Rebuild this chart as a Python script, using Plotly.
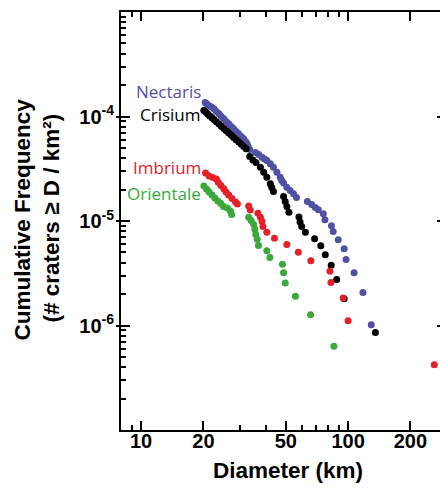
import math
import plotly.graph_objects as go

# ---------------- data ----------------
nectaris_d = [20.4, 20.8, 21.3, 21.9, 22.5, 23.1, 23.8, 24.4, 25.1, 25.8, 26.5, 27.3, 28.0, 28.8,
              29.6, 30.5, 31.3, 32.0, 32.5, 32.9, 33.5, 35.7, 37.0, 38.4, 39.5, 40.5, 42.1, 43.6,
              45.3, 47.0, 47.8, 48.8, 50.6, 52.5, 54.5, 56.3, 63.6, 66.7, 69.4, 71.8, 75.9, 77.3,
              83.1, 84.7, 89.6, 95.7, 97.8, 106.9, 118.0, 129.4]
nectaris_n = [1.36e-4, 1.32e-4, 1.27e-4, 1.23e-4, 1.185e-4, 1.116e-4, 1.061e-4, 1.0e-4, 9.51e-5,
              8.96e-5, 8.51e-5, 8.02e-5, 7.62e-5, 7.19e-5, 6.83e-5, 6.44e-5, 6.12e-5, 5.76e-5,
              5.48e-5, 5.16e-5, 4.83e-5, 4.52e-5, 4.33e-5, 4.08e-5, 3.92e-5, 3.79e-5, 3.53e-5,
              3.27e-5, 2.93e-5, 2.62e-5, 2.44e-5, 2.31e-5, 2.10e-5, 1.96e-5, 1.82e-5, 1.68e-5,
              1.54e-5, 1.44e-5, 1.35e-5, 1.28e-5, 1.17e-5, 1.03e-5, 9.0e-6, 7.93e-6, 6.61e-6,
              5.42e-6, 4.28e-6, 3.19e-6, 2.07e-6, 1.016e-6]

crisium_d = [20.1, 20.6, 21.0, 21.5, 22.0, 22.5, 23.1, 23.8, 24.4, 25.1, 25.8, 26.5, 27.3, 28.0,
             28.8, 29.6, 30.5, 31.3, 32.2, 33.5, 34.7, 35.9, 37.7, 39.1, 40.5, 42.1, 42.8, 43.6,
             48.8, 49.7, 50.6, 51.8, 57.9, 58.6, 59.7, 62.2, 68.9, 73.8, 77.6, 82.9, 88.1, 95.7,
             135.5]
crisium_n = [1.141e-4, 1.097e-4, 1.054e-4, 1.013e-4, 9.74e-5, 9.36e-5, 8.91e-5, 8.48e-5, 8.07e-5,
             7.68e-5, 7.31e-5, 6.95e-5, 6.62e-5, 6.30e-5, 5.99e-5, 5.70e-5, 5.43e-5, 5.16e-5,
             4.91e-5, 4.14e-5, 3.83e-5, 3.63e-5, 3.27e-5, 2.93e-5, 2.62e-5, 2.27e-5, 2.09e-5,
             1.915e-5, 1.715e-5, 1.54e-5, 1.376e-5, 1.214e-5, 1.092e-5, 9.78e-6, 8.86e-6,
             7.81e-6, 6.76e-6, 5.79e-6, 4.75e-6, 3.78e-6, 2.76e-6, 1.80e-6, 8.57e-7]

imbrium_d = [20.5, 21.3, 22.2, 23.1, 23.6, 24.3, 25.1, 25.7, 26.5, 27.5, 28.6, 29.2, 33.1, 33.7,
             36.7, 37.7, 38.4, 38.8, 40.5, 44.1, 50.6, 57.5, 66.1, 81.7, 82.6, 94.6, 100.0, 260.8]
imbrium_n = [2.88e-5, 2.695e-5, 2.61e-5, 2.52e-5, 2.35e-5, 2.19e-5, 2.03e-5, 1.894e-5, 1.773e-5,
             1.641e-5, 1.52e-5, 1.455e-5, 1.392e-5, 1.274e-5, 1.187e-5, 1.087e-5, 9.89e-6,
             8.86e-6, 7.81e-6, 6.84e-6, 5.96e-6, 5.03e-6, 4.16e-6, 3.31e-6, 2.58e-6, 1.83e-6,
             1.109e-6, 4.21e-7]

orientale_d = [20.1, 20.7, 21.3, 22.0, 22.7, 23.5, 24.3, 25.0, 26.1, 27.0, 27.4, 33.1, 34.0, 35.0,
               35.5, 35.8, 36.4, 36.9, 40.5, 41.9, 48.2, 48.8, 49.7, 55.7, 65.9, 85.4]
orientale_n = [2.163e-5, 2.024e-5, 1.894e-5, 1.773e-5, 1.66e-5, 1.553e-5, 1.471e-5, 1.376e-5,
               1.332e-5, 1.246e-5, 1.154e-5, 1.087e-5, 1.011e-5, 9.26e-6, 8.29e-6, 7.43e-6,
               6.69e-6, 5.83e-6, 5.19e-6, 4.47e-6, 3.86e-6, 3.19e-6, 2.55e-6, 1.90e-6, 1.268e-6,
               6.34e-7]

series_names = ["Nectaris", "Crisium", "Imbrium", "Orientale"]
series_colors = ["#5150A2", "#000000", "#E42128", "#3AA83A"]

x_tickvals = [10, 20, 50, 100, 200]
x_ticktext = ["10", "20", "50", "100", "200"]
x_minor = [8, 9, 30, 40, 60, 70, 80, 90, 300]
y_tickvals = [1e-6, 1e-5, 1e-4]
y_ticktext = ["10<sup>-6</sup>", "10<sup>-5</sup>", "10<sup>-4</sup>"]
y_minor = [k * 10.0 ** e for e in range(-7, -3) for k in range(2, 10)]

# ---------------- figure ----------------
fig = go.Figure()
data = [(nectaris_d, nectaris_n), (crisium_d, crisium_n),
        (imbrium_d, imbrium_n), (orientale_d, orientale_n)]
for name, (d, n), col in zip(series_names, data, series_colors):
    fig.add_trace(go.Scatter(x=d, y=n, mode="markers", name=name,
                             marker=dict(size=7, color=col, line=dict(width=0)),
                             showlegend=False, hoverinfo="x+y+name"))
# helper trace for the outside stub of the major y ticks
fig.add_trace(go.Scatter(x=[], y=[], yaxis="y2", showlegend=False, hoverinfo="skip"))

bold = dict(family="Liberation Sans, Arial, sans-serif", color="black", weight="bold")
x_lo = math.log10(8)
x_hi = x_lo + 327 / 208.3

# the page body adds an 8px offset, so the figure is 440x483
fig.update_layout(
    width=440, height=483,
    margin=dict(l=113, r=0, t=4, b=61),
    paper_bgcolor="white", plot_bgcolor="white",
    showlegend=False,
    xaxis=dict(type="log", range=[x_lo, x_hi], tickmode="array",
               tickvals=x_tickvals, ticktext=x_ticktext,
               ticks="inside", ticklen=9, tickwidth=2, tickcolor="black",
               showline=True, linewidth=2, linecolor="black", mirror="ticks",
               showgrid=False, zeroline=False, ticklabelstandoff=-8,
               tickfont=dict(size=20, **bold),
               minor=dict(tickmode="array", tickvals=x_minor, ticks="inside",
                          ticklen=5, tickwidth=1.5, tickcolor="black", showgrid=False)),
    yaxis=dict(type="log", range=[-7, -3], tickmode="array",
               tickvals=y_tickvals, ticktext=y_ticktext,
               ticks="inside", ticklen=9, tickwidth=2, tickcolor="black",
               showline=True, linewidth=2, linecolor="black", mirror="ticks",
               showgrid=False, zeroline=False, ticklabelstandoff=1,
               tickfont=dict(size=20, **bold),
               minor=dict(tickmode="array", tickvals=y_minor, ticks="inside",
                          ticklen=5, tickwidth=1.5, tickcolor="black", showgrid=False)),
    yaxis2=dict(type="log", range=[-7, -3], overlaying="y", side="left", anchor="x",
                tickmode="array", tickvals=y_tickvals, ticks="outside", ticklen=4,
                tickwidth=2, tickcolor="black", showticklabels=False,
                showline=False, showgrid=False, zeroline=False),
)

label_font = "Open Sans, Noto Sans, sans-serif"
label_pos = [0.811, 0.7536, 0.6268, 0.5646]
for name, col, ypos in zip(series_names, series_colors, label_pos):
    fig.add_annotation(text=name, xref="paper", yref="paper", x=0.2508, y=ypos,
                       xanchor="right", yanchor="middle", showarrow=False,
                       font=dict(family=label_font, size=17, color=col))

fig.add_annotation(text="Diameter (km)", xref="paper", yref="paper",
                   x=(289 - 121) / 327, y=(430 - 470) / 418,
                   xanchor="center", yanchor="middle", showarrow=False,
                   font=dict(size=22.5, **bold))
fig.add_annotation(text="Cumulative Frequency",
                   xref="paper", yref="paper", textangle=-90,
                   x=(21 - 121) / 327, y=(430 - 220) / 418, xanchor="center", yanchor="middle",
                   showarrow=False, font=dict(size=22.5, **bold))
fig.add_annotation(text="(# craters ≥ D / km²)",
                   xref="paper", yref="paper", textangle=-90,
                   x=(51 - 121) / 327, y=(430 - 218) / 418, xanchor="center", yanchor="middle",
                   showarrow=False, font=dict(size=22.5, **bold))

fig.write_html("out.html")
